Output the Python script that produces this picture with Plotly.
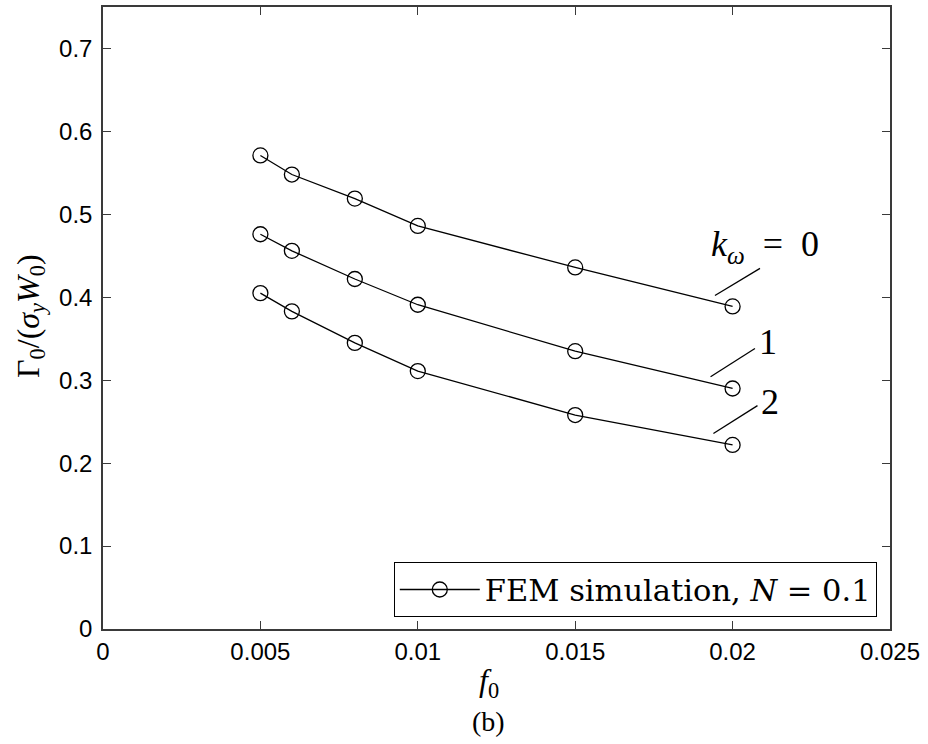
import plotly.graph_objects as go

# Data
f0 = [0.005, 0.006, 0.008, 0.010, 0.015, 0.020]
k0_vals = [0.571, 0.548, 0.519, 0.486, 0.436, 0.389]
k1_vals = [0.476, 0.456, 0.422, 0.391, 0.335, 0.290]
k2_vals = [0.405, 0.383, 0.345, 0.311, 0.258, 0.222]
series = [("k0", k0_vals), ("k1", k1_vals), ("k2", k2_vals)]

x_ticks = [0, 0.005, 0.01, 0.015, 0.02, 0.025]
x_ticktext = ["0", "0.005", "0.01", "0.015", "0.02", "0.025"]
y_ticks = [0, 0.1, 0.2, 0.3, 0.4, 0.5, 0.6, 0.7]
y_ticktext = ["0", "0.1", "0.2", "0.3", "0.4", "0.5", "0.6", "0.7"]

EN = "\u2002"
# curve labels: (text, label x, label y, leader x0, y0, x1, y1)
curve_labels = [
    ("<i>k</i><sub><i>ω</i></sub>" + EN + "=" + EN + "0", 0.02103, 0.461, 0.01944, 0.4022, 0.02087, 0.4349),
    ("1", 0.02113, 0.3457, 0.01930, 0.3041, 0.02071, 0.3382),
    ("2", 0.02119, 0.2737, 0.01939, 0.2357, 0.02079, 0.2693),
]
legend_name = "FEM simulation, <i>N</i> = 0.1"

SERIF = "Liberation Serif"
LEG_SERIF = "DejaVu Serif"
SANS = "Liberation Sans"
AX = "#3a3a3a"

fig = go.Figure()
for i, (name, vals) in enumerate(series):
    fig.add_trace(go.Scatter(
        x=f0, y=vals, mode="lines+markers",
        name=legend_name,
        showlegend=(i == 0), legendgroup="fem",
        line=dict(color="black", width=1.3),
        marker=dict(symbol="circle-open", size=15, color="black",
                    line=dict(width=1.3, color="black")),
    ))

shapes = []
annotations = []
for text, lx, ly, x0, y0, x1, y1 in curve_labels:
    shapes.append(dict(type="line", xref="x", yref="y", x0=x0, y0=y0, x1=x1, y1=y1,
                       line=dict(color="black", width=1.3)))
    annotations.append(dict(x=lx, y=ly, xref="x", yref="y", text=text, showarrow=False,
                            font=dict(family=SERIF, size=36, color="black")))

annotations.append(dict(x=0.49, y=-0.086, xref="paper", yref="paper",
                        xanchor="center", yanchor="middle",
                        text="<i>f</i><sub>0</sub>", showarrow=False,
                        font=dict(family=SERIF, size=32, color="black")))
annotations.append(dict(x=0.49, y=-0.148, xref="paper", yref="paper",
                        xanchor="center", yanchor="middle",
                        text="(b)", showarrow=False,
                        font=dict(family=SERIF, size=28, color="black")))
annotations.append(dict(x=-0.093, y=0.503, xref="paper", yref="paper",
                        xanchor="center", yanchor="middle",
                        text="Γ<sub>0</sub>/(<i>σ</i><sub><i>y</i></sub><i>W</i><sub>0</sub>)",
                        textangle=-90, showarrow=False,
                        font=dict(family=SERIF, size=32, color="black")))

fig.update_layout(
    width=928, height=744,
    margin=dict(l=103, r=38, t=5, b=115),
    paper_bgcolor="white", plot_bgcolor="white",
    shapes=shapes, annotations=annotations,
    showlegend=True,
    legend=dict(x=0.3695, y=0.019, xanchor="left", yanchor="bottom",
                bordercolor="black", borderwidth=1, bgcolor="white",
                font=dict(family=LEG_SERIF, size=30.5, color="black"),
                itemwidth=80),
    xaxis=dict(range=[0, 0.025], tickvals=x_ticks, ticktext=x_ticktext,
               showgrid=False, zeroline=False, showline=True, linecolor=AX, linewidth=1.5,
               mirror="ticks", ticks="inside", ticklen=8, tickcolor=AX, tickwidth=1.3,
               tickfont=dict(family=SANS, size=24, color="black")),
    yaxis=dict(range=[0, 0.75], tickvals=y_ticks, ticktext=y_ticktext,
               showgrid=False, zeroline=False, showline=True, linecolor=AX, linewidth=1.5,
               mirror="ticks", ticks="inside", ticklen=8, tickcolor=AX, tickwidth=1.3,
               ticklabelstandoff=4,
               tickfont=dict(family=SANS, size=24, color="black")),
)

fig.write_html("out.html", config={"displayModeBar": False},
               post_script="document.body.style.margin='0px';")
